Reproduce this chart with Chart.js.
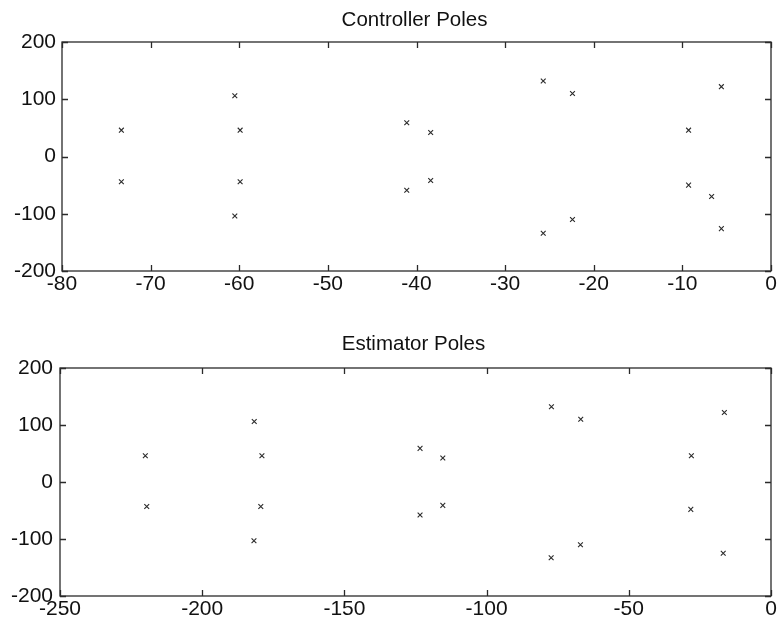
<!DOCTYPE html>
<html><head><meta charset="utf-8">
<script src="https://cdn.jsdelivr.net/npm/chart.js@4/dist/chart.umd.min.js"></script>
<style>
html,body{margin:0;padding:0;background:#fff;}
#wrap{position:relative;width:780px;height:628px;overflow:hidden;}
canvas{position:absolute;left:0;}
</style></head><body>
<div id="wrap">
<canvas id="c1" width="780" height="310" style="top:0"></canvas>
<canvas id="c2" width="780" height="310" style="top:318px"></canvas>
</div>
<script>
const ctrlTitle = 'Controller Poles';
const estTitle = 'Estimator Poles';

const ctrlReal = [-73.3, -73.3, -60.5, -59.9, -59.9, -60.5, -41.1, -38.4, -38.4, -41.1, -25.7, -22.4, -22.4, -25.7, -9.3, -9.3, -5.6, -5.6, -6.7];
const ctrlImag = [46, -44, 106, 46, -44, -104, 59, 42, -42, -59, 132, 110, -110, -134, 46, -50, 122, -126, -70];

const estReal = [-220, -219.5, -181.7, -179, -179.4, -181.8, -123.4, -115.4, -115.4, -123.4, -77.2, -66.9, -67, -77.3, -28, -28.2, -16.4, -16.8];
const estImag = [46, -43, 106, 46, -43, -103, 59, 42, -41, -58, 132, 110, -110, -133, 46, -48, 122, -125];

const ctrlXTicks = [-80, -70, -60, -50, -40, -30, -20, -10, 0];
const estXTicks = [-250, -200, -150, -100, -50, 0];
const yTicks = [-200, -100, 0, 100, 200];

const FONT = '"Liberation Sans", Arial, sans-serif';

const framePlugin = {
  id: 'frame',
  afterDraw(chart, args, opts) {
    const {ctx, chartArea: a, scales: {x, y}} = chart;
    ctx.save();
    ctx.strokeStyle = '#2a2a2a';
    ctx.lineWidth = 1.3;
    ctx.strokeRect(a.left, a.top, a.right - a.left, a.bottom - a.top);
    const L = 6;
    ctx.beginPath();
    x.ticks.forEach(t => {
      const px = Math.round(x.getPixelForValue(t.value)) + 0.5;
      ctx.moveTo(px, a.bottom); ctx.lineTo(px, a.bottom - L);
      ctx.moveTo(px, a.top); ctx.lineTo(px, a.top + L);
    });
    y.ticks.forEach(t => {
      const py = Math.round(y.getPixelForValue(t.value)) + 0.5;
      ctx.moveTo(a.left, py); ctx.lineTo(a.left + L, py);
      ctx.moveTo(a.right, py); ctx.lineTo(a.right - L, py);
    });
    ctx.stroke();
    ctx.fillStyle = '#111';
    ctx.font = '20.5px ' + FONT;
    ctx.textAlign = 'center';
    ctx.textBaseline = 'middle';
    ctx.fillText(opts.text, (a.left + a.right) / 2 - 2, a.top - opts.offset);
    ctx.restore();
  }
};

function makeChart(id, reals, imags, xTicks, xmin, cfg) {
  const pts = reals.map((r, i) => ({x: r, y: imags[i]}));
  return new Chart(document.getElementById(id), {
    type: 'scatter',
    data: {datasets: [{
      data: pts,
      pointStyle: 'crossRot',
      pointRadius: 3.4,
      pointBorderWidth: 1.1,
      borderColor: '#2a2a2a',
      backgroundColor: '#2a2a2a'
    }]},
    options: {
      responsive: false,
      animation: false,
      devicePixelRatio: 1,
      layout: {padding: {top: cfg.top, right: 9, left: 0, bottom: 0}},
      plugins: {
        legend: {display: false},
        tooltip: {enabled: false},
        title: {display: false},
        frame: {text: cfg.title, offset: cfg.titleOffset}
      },
      scales: {
        x: {
          type: 'linear', min: xmin, max: 0,
          grid: {display: false, drawTicks: false},
          border: {display: false},
          afterBuildTicks: s => { s.ticks = xTicks.map(v => ({value: v})); },
          afterFit: s => { s.height = cfg.xh; },
          ticks: {color: '#111', font: {family: FONT, size: 21}, padding: 1, maxRotation: 0, autoSkip: false}
        },
        y: {
          type: 'linear', min: -200, max: 200,
          grid: {display: false, drawTicks: false},
          border: {display: false},
          afterBuildTicks: s => { s.ticks = yTicks.map(v => ({value: v})); },
          afterFit: s => { s.width = cfg.yw; },
          ticks: {color: '#111', font: {family: FONT, size: 21}, padding: cfg.ypad, autoSkip: false}
        }
      }
    },
    plugins: [framePlugin]
  });
}

makeChart('c1', ctrlReal, ctrlImag, ctrlXTicks, -80, {top: 42, xh: 39, yw: 62, ypad: 6, title: ctrlTitle, titleOffset: 22});
makeChart('c2', estReal, estImag, estXTicks, -250, {top: 50, xh: 32, yw: 60, ypad: 7, title: estTitle, titleOffset: 24});
</script>
</body></html>
